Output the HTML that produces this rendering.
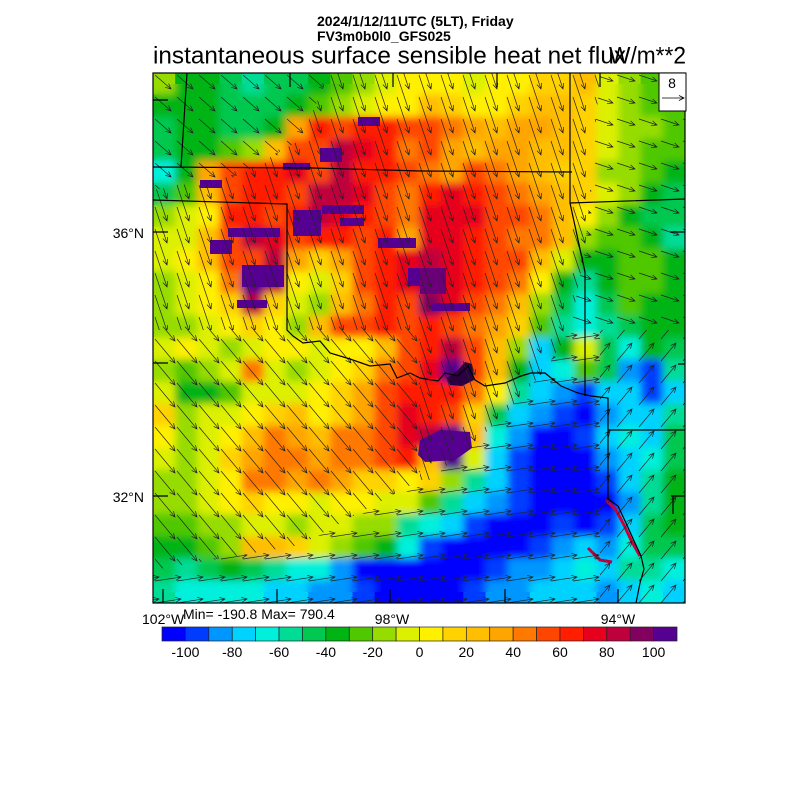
<!DOCTYPE html>
<html><head><meta charset="utf-8"><style>
body{margin:0;background:#fff}
svg{display:block;font-family:"Liberation Sans",Arial,Helvetica,sans-serif}
.a{stroke:#0000ff}.b{stroke:#003cff}.c{stroke:#0096ff}.d{stroke:#00d2ff}.e{stroke:#00f0dc}.f{stroke:#00dc96}.g{stroke:#00c850}.h{stroke:#00b414}.i{stroke:#50c800}.j{stroke:#96dc00}.k{stroke:#dcf000}.l{stroke:#fff000}.m{stroke:#ffd200}.n{stroke:#ffbe00}.o{stroke:#ffa500}.p{stroke:#ff7800}.q{stroke:#ff4600}.r{stroke:#ff1e00}.s{stroke:#e6001e}.t{stroke:#be003c}.u{stroke:#82005f}.v{stroke:#550091}
.grid path{stroke-width:1.06;fill:none}
</style></head><body>
<svg width="800" height="800" viewBox="0 0 800 800" xmlns="http://www.w3.org/2000/svg" xmlns:xlink="http://www.w3.org/1999/xlink">
<rect width="800" height="800" fill="#fff"/>
<defs>
<filter id="bl" x="0" y="0" width="1" height="1"><feGaussianBlur stdDeviation="4"/></filter>
<clipPath id="mapclip"><rect x="153" y="73" width="532" height="530"/></clipPath>
<clipPath id="cA"><polygon points="153,73 330,73 300,140 240,175 153,190"/></clipPath>
<clipPath id="cB"><polygon points="330,73 600,73 585,250 570,330 545,370 500,420 430,480 420,480 420,330 153,330 153,190 240,175 300,140"/></clipPath>
<clipPath id="cC"><polygon points="153,330 420,330 420,480 300,545 153,570"/></clipPath>
<clipPath id="cD"><polygon points="153,570 300,545 430,480 500,420 545,370 570,330 600,330 600,603 153,603"/></clipPath>
<clipPath id="cE"><polygon points="600,330 685,330 685,603 600,603"/></clipPath>
<clipPath id="cF"><polygon points="600,73 685,73 685,330 570,330 585,250"/></clipPath>
<path id="aA" d="M2,2l16,14m-2.4,-5.5l2.4,5.5l-5.8,-1.7"/>
<path id="aB" d="M2,2l12,36m.7,-6l-.7,6l-4.1,-4.4"/>
<path id="aC" d="M2,2l20,24m-1.5,-5.8l1.5,5.8l-5.4,-2.6"/>
<path id="aD" d="M2,2l26,-4m-5.8,-1.7l5.8,1.7l-5,3.3"/>
<path id="aE" d="M2,2l15,-18m-5.4,2.6l5.4,-2.6l-1.5,5.8"/>
<path id="aF" d="M2,2l18,6m-4.4,-4.1l4.4,4.1l-6,.7"/>
<g id="rA"><use href="#aA" xlink:href="#aA" x="-44"/><use href="#aA" xlink:href="#aA" x="-22"/><use href="#aA" xlink:href="#aA"/><use href="#aA" xlink:href="#aA" x="22"/></g>
<g id="rB"><use href="#aB" xlink:href="#aB" x="-44"/><use href="#aB" xlink:href="#aB" x="-22"/><use href="#aB" xlink:href="#aB"/><use href="#aB" xlink:href="#aB" x="22"/></g>
<g id="rC"><use href="#aC" xlink:href="#aC" x="-44"/><use href="#aC" xlink:href="#aC" x="-22"/><use href="#aC" xlink:href="#aC"/><use href="#aC" xlink:href="#aC" x="22"/></g>
<g id="rD"><use href="#aD" xlink:href="#aD" x="-44"/><use href="#aD" xlink:href="#aD" x="-22"/><use href="#aD" xlink:href="#aD"/><use href="#aD" xlink:href="#aD" x="22"/></g>
<g id="rE"><use href="#aE" xlink:href="#aE" x="-44"/><use href="#aE" xlink:href="#aE" x="-22"/><use href="#aE" xlink:href="#aE"/><use href="#aE" xlink:href="#aE" x="22"/></g>
<g id="rF"><use href="#aF" xlink:href="#aF" x="-44"/><use href="#aF" xlink:href="#aF" x="-22"/><use href="#aF" xlink:href="#aF"/><use href="#aF" xlink:href="#aF" x="22"/></g>
<pattern id="pA" patternUnits="userSpaceOnUse" x="153" y="73" width="22" height="22"><g stroke="#222" stroke-width=".7" fill="none"><use href="#rA" xlink:href="#rA" y="-44"/><use href="#rA" xlink:href="#rA" y="-22"/><use href="#rA" xlink:href="#rA"/><use href="#rA" xlink:href="#rA" y="22"/></g></pattern>
<pattern id="pB" patternUnits="userSpaceOnUse" x="153" y="73" width="22" height="22"><g stroke="#222" stroke-width=".7" fill="none"><use href="#rB" xlink:href="#rB" y="-44"/><use href="#rB" xlink:href="#rB" y="-22"/><use href="#rB" xlink:href="#rB"/><use href="#rB" xlink:href="#rB" y="22"/></g></pattern>
<pattern id="pC" patternUnits="userSpaceOnUse" x="153" y="73" width="22" height="22"><g stroke="#222" stroke-width=".7" fill="none"><use href="#rC" xlink:href="#rC" y="-44"/><use href="#rC" xlink:href="#rC" y="-22"/><use href="#rC" xlink:href="#rC"/><use href="#rC" xlink:href="#rC" y="22"/></g></pattern>
<pattern id="pD" patternUnits="userSpaceOnUse" x="153" y="73" width="22" height="22"><g stroke="#222" stroke-width=".7" fill="none"><use href="#rD" xlink:href="#rD" y="-44"/><use href="#rD" xlink:href="#rD" y="-22"/><use href="#rD" xlink:href="#rD"/><use href="#rD" xlink:href="#rD" y="22"/></g></pattern>
<pattern id="pE" patternUnits="userSpaceOnUse" x="153" y="73" width="22" height="22"><g stroke="#222" stroke-width=".7" fill="none"><use href="#rE" xlink:href="#rE" y="-44"/><use href="#rE" xlink:href="#rE" y="-22"/><use href="#rE" xlink:href="#rE"/><use href="#rE" xlink:href="#rE" y="22"/></g></pattern>
<pattern id="pF" patternUnits="userSpaceOnUse" x="153" y="73" width="22" height="22"><g stroke="#222" stroke-width=".7" fill="none"><use href="#rF" xlink:href="#rF" y="-44"/><use href="#rF" xlink:href="#rF" y="-22"/><use href="#rF" xlink:href="#rF"/><use href="#rF" xlink:href="#rF" y="22"/></g></pattern>
</defs>

<g clip-path="url(#mapclip)">
<g id="grid" class="grid" transform="translate(153,73) scale(22.1667,22.0833)">
<path class="j" d="M0,.5h1.05"/><path class="h" d="M1,.5h2.05"/><path class="g" d="M3,.5h1.05"/><path class="f" d="M4,.5h1.05"/><path class="g" d="M5,.5h2.05"/><path class="h" d="M7,.5h1.05"/><path class="i" d="M8,.5h1.05"/><path class="j" d="M9,.5h1.05"/><path class="k" d="M10,.5h1.05"/><path class="l" d="M11,.5h3.05"/><path class="k" d="M14,.5h1.05"/><path class="l" d="M15,.5h2.05"/><path class="m" d="M17,.5h2.05"/><path class="n" d="M19,.5h1.05"/><path class="k" d="M20,.5h1.05"/><path class="j" d="M21,.5h1.05"/><path class="i" d="M22,.5h2.05"/>
<path class="h" d="M0,1.5h3.05"/><path class="g" d="M3,1.5h3.05"/><path class="h" d="M6,1.5h1.05"/><path class="i" d="M7,1.5h1.05"/><path class="j" d="M8,1.5h1.05"/><path class="k" d="M9,1.5h1.05"/><path class="l" d="M10,1.5h2.05"/><path class="n" d="M12,1.5h1.05"/><path class="m" d="M13,1.5h1.05"/><path class="l" d="M14,1.5h2.05"/><path class="m" d="M16,1.5h1.05"/><path class="n" d="M17,1.5h2.05"/><path class="m" d="M19,1.5h1.05"/><path class="k" d="M20,1.5h1.05"/><path class="j" d="M21,1.5h1.05"/><path class="i" d="M22,1.5h2.05"/>
<path class="g" d="M0,2.5h1.05"/><path class="h" d="M1,2.5h2.05"/><path class="g" d="M3,2.5h2.05"/><path class="h" d="M5,2.5h1.05"/><path class="o" d="M6,2.5h1.05"/><path class="r" d="M7,2.5h1.05"/><path class="q" d="M8,2.5h1.05"/><path class="r" d="M9,2.5h2.05"/><path class="q" d="M11,2.5h2.05"/><path class="p" d="M13,2.5h1.05"/><path class="o" d="M14,2.5h1.05"/><path class="n" d="M15,2.5h1.05"/><path class="o" d="M16,2.5h2.05"/><path class="n" d="M18,2.5h1.05"/><path class="m" d="M19,2.5h1.05"/><path class="k" d="M20,2.5h1.05"/><path class="j" d="M21,2.5h2.05"/><path class="i" d="M23,2.5h1.05"/>
<path class="g" d="M0,3.5h1.05"/><path class="h" d="M1,3.5h2.05"/><path class="i" d="M3,3.5h1.05"/><path class="j" d="M4,3.5h1.05"/><path class="n" d="M5,3.5h1.05"/><path class="q" d="M6,3.5h2.05"/><path class="t" d="M8,3.5h1.05"/><path class="s" d="M9,3.5h1.05"/><path class="r" d="M10,3.5h1.05"/><path class="p" d="M11,3.5h1.05"/><path class="q" d="M12,3.5h1.05"/><path class="o" d="M13,3.5h1.05"/><path class="n" d="M14,3.5h1.05"/><path class="o" d="M15,3.5h2.05"/><path class="n" d="M17,3.5h2.05"/><path class="m" d="M19,3.5h1.05"/><path class="k" d="M20,3.5h1.05"/><path class="j" d="M21,3.5h1.05"/><path class="i" d="M22,3.5h2.05"/>
<path class="e" d="M0,4.5h1.05"/><path class="h" d="M1,4.5h1.05"/><path class="o" d="M2,4.5h1.05"/><path class="q" d="M3,4.5h1.05"/><path class="r" d="M4,4.5h2.05"/><path class="s" d="M6,4.5h1.05"/><path class="q" d="M7,4.5h1.05"/><path class="t" d="M8,4.5h1.05"/><path class="r" d="M9,4.5h2.05"/><path class="q" d="M11,4.5h1.05"/><path class="p" d="M12,4.5h1.05"/><path class="o" d="M13,4.5h1.05"/><path class="q" d="M14,4.5h1.05"/><path class="p" d="M15,4.5h1.05"/><path class="o" d="M16,4.5h1.05"/><path class="n" d="M17,4.5h1.05"/><path class="m" d="M18,4.5h2.05"/><path class="j" d="M20,4.5h2.05"/><path class="i" d="M22,4.5h1.05"/><path class="h" d="M23,4.5h1.05"/>
<path class="g" d="M0,5.5h1.05"/><path class="i" d="M1,5.5h1.05"/><path class="n" d="M2,5.5h1.05"/><path class="q" d="M3,5.5h1.05"/><path class="r" d="M4,5.5h2.05"/><path class="q" d="M6,5.5h1.05"/><path class="t" d="M7,5.5h2.05"/><path class="s" d="M9,5.5h1.05"/><path class="q" d="M10,5.5h1.05"/><path class="p" d="M11,5.5h1.05"/><path class="r" d="M12,5.5h1.05"/><path class="s" d="M13,5.5h1.05"/><path class="r" d="M14,5.5h1.05"/><path class="q" d="M15,5.5h1.05"/><path class="p" d="M16,5.5h1.05"/><path class="o" d="M17,5.5h1.05"/><path class="n" d="M18,5.5h1.05"/><path class="m" d="M19,5.5h1.05"/><path class="k" d="M20,5.5h1.05"/><path class="j" d="M21,5.5h1.05"/><path class="h" d="M22,5.5h1.05"/><path class="g" d="M23,5.5h1.05"/>
<path class="j" d="M0,6.5h1.05"/><path class="k" d="M1,6.5h1.05"/><path class="l" d="M2,6.5h1.05"/><path class="r" d="M3,6.5h2.05"/><path class="q" d="M5,6.5h1.05"/><path class="r" d="M6,6.5h1.05"/><path class="t" d="M7,6.5h1.05"/><path class="s" d="M8,6.5h1.05"/><path class="r" d="M9,6.5h1.05"/><path class="q" d="M10,6.5h1.05"/><path class="p" d="M11,6.5h1.05"/><path class="s" d="M12,6.5h3.05"/><path class="q" d="M15,6.5h2.05"/><path class="p" d="M17,6.5h1.05"/><path class="n" d="M18,6.5h1.05"/><path class="l" d="M19,6.5h1.05"/><path class="j" d="M20,6.5h1.05"/><path class="h" d="M21,6.5h1.05"/><path class="g" d="M22,6.5h2.05"/>
<path class="k" d="M0,7.5h2.05"/><path class="n" d="M2,7.5h1.05"/><path class="q" d="M3,7.5h1.05"/><path class="t" d="M4,7.5h1.05"/><path class="s" d="M5,7.5h1.05"/><path class="q" d="M6,7.5h1.05"/><path class="r" d="M7,7.5h2.05"/><path class="q" d="M9,7.5h1.05"/><path class="r" d="M10,7.5h1.05"/><path class="o" d="M11,7.5h1.05"/><path class="s" d="M12,7.5h2.05"/><path class="r" d="M14,7.5h1.05"/><path class="q" d="M15,7.5h1.05"/><path class="p" d="M16,7.5h2.05"/><path class="n" d="M18,7.5h1.05"/><path class="j" d="M19,7.5h1.05"/><path class="i" d="M20,7.5h2.05"/><path class="h" d="M22,7.5h1.05"/><path class="f" d="M23,7.5h1.05"/>
<path class="k" d="M0,8.5h1.05"/><path class="l" d="M1,8.5h1.05"/><path class="n" d="M2,8.5h1.05"/><path class="q" d="M3,8.5h2.05"/><path class="t" d="M5,8.5h1.05"/><path class="o" d="M6,8.5h1.05"/><path class="m" d="M7,8.5h1.05"/><path class="o" d="M8,8.5h1.05"/><path class="q" d="M9,8.5h1.05"/><path class="r" d="M10,8.5h1.05"/><path class="s" d="M11,8.5h1.05"/><path class="t" d="M12,8.5h1.05"/><path class="s" d="M13,8.5h1.05"/><path class="r" d="M14,8.5h1.05"/><path class="q" d="M15,8.5h2.05"/><path class="n" d="M17,8.5h1.05"/><path class="k" d="M18,8.5h1.05"/><path class="h" d="M19,8.5h2.05"/><path class="i" d="M21,8.5h2.05"/><path class="h" d="M23,8.5h1.05"/>
<path class="j" d="M0,9.5h1.05"/><path class="k" d="M1,9.5h1.05"/><path class="l" d="M2,9.5h1.05"/><path class="p" d="M3,9.5h1.05"/><path class="v" d="M4,9.5h1.05"/><path class="t" d="M5,9.5h1.05"/><path class="l" d="M6,9.5h1.05"/><path class="k" d="M7,9.5h1.05"/><path class="m" d="M8,9.5h1.05"/><path class="q" d="M9,9.5h1.05"/><path class="r" d="M10,9.5h1.05"/><path class="s" d="M11,9.5h1.05"/><path class="t" d="M12,9.5h1.05"/><path class="s" d="M13,9.5h1.05"/><path class="r" d="M14,9.5h1.05"/><path class="q" d="M15,9.5h1.05"/><path class="p" d="M16,9.5h1.05"/><path class="l" d="M17,9.5h1.05"/><path class="h" d="M18,9.5h1.05"/><path class="f" d="M19,9.5h1.05"/><path class="h" d="M20,9.5h1.05"/><path class="i" d="M21,9.5h2.05"/><path class="h" d="M23,9.5h1.05"/>
<path class="j" d="M0,10.5h1.05"/><path class="k" d="M1,10.5h1.05"/><path class="l" d="M2,10.5h1.05"/><path class="m" d="M3,10.5h1.05"/><path class="t" d="M4,10.5h1.05"/><path class="m" d="M5,10.5h1.05"/><path class="k" d="M6,10.5h1.05"/><path class="j" d="M7,10.5h1.05"/><path class="n" d="M8,10.5h1.05"/><path class="p" d="M9,10.5h1.05"/><path class="r" d="M10,10.5h1.05"/><path class="q" d="M11,10.5h1.05"/><path class="u" d="M12,10.5h1.05"/><path class="s" d="M13,10.5h1.05"/><path class="q" d="M14,10.5h1.05"/><path class="p" d="M15,10.5h1.05"/><path class="n" d="M16,10.5h1.05"/><path class="j" d="M17,10.5h1.05"/><path class="g" d="M18,10.5h1.05"/><path class="e" d="M19,10.5h1.05"/><path class="g" d="M20,10.5h1.05"/><path class="i" d="M21,10.5h1.05"/><path class="h" d="M22,10.5h2.05"/>
<path class="j" d="M0,11.5h2.05"/><path class="k" d="M2,11.5h1.05"/><path class="l" d="M3,11.5h1.05"/><path class="m" d="M4,11.5h1.05"/><path class="l" d="M5,11.5h1.05"/><path class="j" d="M6,11.5h1.05"/><path class="n" d="M7,11.5h1.05"/><path class="q" d="M8,11.5h2.05"/><path class="r" d="M10,11.5h1.05"/><path class="q" d="M11,11.5h1.05"/><path class="r" d="M12,11.5h1.05"/><path class="q" d="M13,11.5h1.05"/><path class="p" d="M14,11.5h1.05"/><path class="o" d="M15,11.5h1.05"/><path class="m" d="M16,11.5h1.05"/><path class="i" d="M17,11.5h1.05"/><path class="f" d="M18,11.5h1.05"/><path class="e" d="M19,11.5h1.05"/><path class="f" d="M20,11.5h1.05"/><path class="g" d="M21,11.5h1.05"/><path class="h" d="M22,11.5h2.05"/>
<path class="k" d="M0,12.5h1.05"/><path class="l" d="M1,12.5h1.05"/><path class="k" d="M2,12.5h1.05"/><path class="j" d="M3,12.5h1.05"/><path class="k" d="M4,12.5h1.05"/><path class="l" d="M5,12.5h2.05"/><path class="k" d="M7,12.5h1.05"/><path class="l" d="M8,12.5h2.05"/><path class="n" d="M10,12.5h1.05"/><path class="q" d="M11,12.5h1.05"/><path class="r" d="M12,12.5h1.05"/><path class="t" d="M13,12.5h1.05"/><path class="q" d="M14,12.5h1.05"/><path class="n" d="M15,12.5h1.05"/><path class="j" d="M16,12.5h1.05"/><path class="d" d="M17,12.5h1.05"/><path class="h" d="M18,12.5h1.05"/><path class="k" d="M19,12.5h1.05"/><path class="g" d="M20,12.5h1.05"/><path class="e" d="M21,12.5h1.05"/><path class="h" d="M22,12.5h1.05"/><path class="g" d="M23,12.5h1.05"/>
<path class="j" d="M0,13.5h1.05"/><path class="i" d="M1,13.5h1.05"/><path class="j" d="M2,13.5h1.05"/><path class="k" d="M3,13.5h1.05"/><path class="p" d="M4,13.5h1.05"/><path class="k" d="M5,13.5h1.05"/><path class="j" d="M6,13.5h1.05"/><path class="k" d="M7,13.5h1.05"/><path class="l" d="M8,13.5h1.05"/><path class="m" d="M9,13.5h1.05"/><path class="p" d="M10,13.5h1.05"/><path class="q" d="M11,13.5h1.05"/><path class="s" d="M12,13.5h1.05"/><path class="v" d="M13,13.5h1.05"/><path class="q" d="M14,13.5h1.05"/><path class="n" d="M15,13.5h1.05"/><path class="h" d="M16,13.5h1.05"/><path class="d" d="M17,13.5h1.05"/><path class="e" d="M18,13.5h1.05"/><path class="i" d="M19,13.5h1.05"/><path class="g" d="M20,13.5h1.05"/><path class="c" d="M21,13.5h1.05"/><path class="b" d="M22,13.5h1.05"/><path class="f" d="M23,13.5h1.05"/>
<path class="k" d="M0,14.5h1.05"/><path class="h" d="M1,14.5h2.05"/><path class="i" d="M3,14.5h1.05"/><path class="k" d="M4,14.5h3.05"/><path class="l" d="M7,14.5h1.05"/><path class="m" d="M8,14.5h1.05"/><path class="o" d="M9,14.5h1.05"/><path class="q" d="M10,14.5h1.05"/><path class="r" d="M11,14.5h3.05"/><path class="p" d="M14,14.5h1.05"/><path class="l" d="M15,14.5h1.05"/><path class="f" d="M16,14.5h1.05"/><path class="d" d="M17,14.5h1.05"/><path class="c" d="M18,14.5h1.05"/><path class="b" d="M19,14.5h1.05"/><path class="d" d="M20,14.5h2.05"/><path class="b" d="M22,14.5h1.05"/><path class="d" d="M23,14.5h1.05"/>
<path class="m" d="M0,15.5h1.05"/><path class="j" d="M1,15.5h1.05"/><path class="k" d="M2,15.5h2.05"/><path class="l" d="M4,15.5h1.05"/><path class="m" d="M5,15.5h1.05"/><path class="n" d="M6,15.5h1.05"/><path class="l" d="M7,15.5h1.05"/><path class="m" d="M8,15.5h1.05"/><path class="o" d="M9,15.5h1.05"/><path class="q" d="M10,15.5h1.05"/><path class="s" d="M11,15.5h1.05"/><path class="r" d="M12,15.5h1.05"/><path class="q" d="M13,15.5h1.05"/><path class="m" d="M14,15.5h1.05"/><path class="g" d="M15,15.5h1.05"/><path class="d" d="M16,15.5h1.05"/><path class="c" d="M17,15.5h1.05"/><path class="b" d="M18,15.5h1.05"/><path class="a" d="M19,15.5h1.05"/><path class="c" d="M20,15.5h1.05"/><path class="d" d="M21,15.5h2.05"/><path class="f" d="M23,15.5h1.05"/>
<path class="l" d="M0,16.5h1.05"/><path class="j" d="M1,16.5h1.05"/><path class="k" d="M2,16.5h1.05"/><path class="l" d="M3,16.5h1.05"/><path class="n" d="M4,16.5h1.05"/><path class="p" d="M5,16.5h1.05"/><path class="o" d="M6,16.5h1.05"/><path class="n" d="M7,16.5h1.05"/><path class="p" d="M8,16.5h2.05"/><path class="q" d="M10,16.5h1.05"/><path class="s" d="M11,16.5h1.05"/><path class="t" d="M12,16.5h1.05"/><path class="v" d="M13,16.5h1.05"/><path class="n" d="M14,16.5h1.05"/><path class="e" d="M15,16.5h1.05"/><path class="c" d="M16,16.5h1.05"/><path class="a" d="M17,16.5h2.05"/><path class="b" d="M19,16.5h1.05"/><path class="d" d="M20,16.5h1.05"/><path class="e" d="M21,16.5h1.05"/><path class="d" d="M22,16.5h1.05"/><path class="g" d="M23,16.5h1.05"/>
<path class="k" d="M0,17.5h1.05"/><path class="j" d="M1,17.5h1.05"/><path class="k" d="M2,17.5h1.05"/><path class="m" d="M3,17.5h1.05"/><path class="o" d="M4,17.5h1.05"/><path class="p" d="M5,17.5h2.05"/><path class="o" d="M7,17.5h1.05"/><path class="p" d="M8,17.5h2.05"/><path class="q" d="M10,17.5h1.05"/><path class="r" d="M11,17.5h1.05"/><path class="n" d="M12,17.5h1.05"/><path class="v" d="M13,17.5h1.05"/><path class="k" d="M14,17.5h1.05"/><path class="d" d="M15,17.5h1.05"/><path class="b" d="M16,17.5h1.05"/><path class="a" d="M17,17.5h3.05"/><path class="c" d="M20,17.5h1.05"/><path class="d" d="M21,17.5h1.05"/><path class="e" d="M22,17.5h1.05"/><path class="g" d="M23,17.5h1.05"/>
<path class="j" d="M0,18.5h2.05"/><path class="k" d="M2,18.5h1.05"/><path class="l" d="M3,18.5h1.05"/><path class="p" d="M4,18.5h2.05"/><path class="o" d="M6,18.5h1.05"/><path class="p" d="M7,18.5h1.05"/><path class="o" d="M8,18.5h1.05"/><path class="m" d="M9,18.5h2.05"/><path class="l" d="M11,18.5h1.05"/><path class="m" d="M12,18.5h1.05"/><path class="j" d="M13,18.5h1.05"/><path class="f" d="M14,18.5h1.05"/><path class="d" d="M15,18.5h1.05"/><path class="b" d="M16,18.5h1.05"/><path class="a" d="M17,18.5h3.05"/><path class="b" d="M20,18.5h1.05"/><path class="d" d="M21,18.5h1.05"/><path class="f" d="M22,18.5h1.05"/><path class="h" d="M23,18.5h1.05"/>
<path class="j" d="M0,19.5h2.05"/><path class="k" d="M2,19.5h1.05"/><path class="l" d="M3,19.5h1.05"/><path class="m" d="M4,19.5h1.05"/><path class="l" d="M5,19.5h2.05"/><path class="k" d="M7,19.5h1.05"/><path class="l" d="M8,19.5h2.05"/><path class="k" d="M10,19.5h2.05"/><path class="i" d="M12,19.5h1.05"/><path class="f" d="M13,19.5h1.05"/><path class="d" d="M14,19.5h1.05"/><path class="c" d="M15,19.5h1.05"/><path class="b" d="M16,19.5h1.05"/><path class="a" d="M17,19.5h4.05"/><path class="c" d="M21,19.5h1.05"/><path class="f" d="M22,19.5h1.05"/><path class="h" d="M23,19.5h1.05"/>
<path class="i" d="M0,20.5h2.05"/><path class="j" d="M2,20.5h2.05"/><path class="k" d="M4,20.5h2.05"/><path class="j" d="M6,20.5h1.05"/><path class="k" d="M7,20.5h2.05"/><path class="j" d="M9,20.5h2.05"/><path class="f" d="M11,20.5h1.05"/><path class="e" d="M12,20.5h1.05"/><path class="d" d="M13,20.5h1.05"/><path class="b" d="M14,20.5h1.05"/><path class="a" d="M15,20.5h3.05"/><path class="b" d="M18,20.5h1.05"/><path class="a" d="M19,20.5h1.05"/><path class="b" d="M20,20.5h1.05"/><path class="d" d="M21,20.5h1.05"/><path class="g" d="M22,20.5h1.05"/><path class="h" d="M23,20.5h1.05"/>
<path class="h" d="M0,21.5h2.05"/><path class="i" d="M2,21.5h1.05"/><path class="j" d="M3,21.5h1.05"/><path class="n" d="M4,21.5h2.05"/><path class="m" d="M6,21.5h1.05"/><path class="k" d="M7,21.5h1.05"/><path class="j" d="M8,21.5h1.05"/><path class="i" d="M9,21.5h1.05"/><path class="h" d="M10,21.5h1.05"/><path class="e" d="M11,21.5h1.05"/><path class="b" d="M12,21.5h1.05"/><path class="a" d="M13,21.5h4.05"/><path class="b" d="M17,21.5h1.05"/><path class="c" d="M18,21.5h1.05"/><path class="d" d="M19,21.5h1.05"/><path class="c" d="M20,21.5h1.05"/><path class="e" d="M21,21.5h1.05"/><path class="g" d="M22,21.5h2.05"/>
<path class="g" d="M0,22.5h1.05"/><path class="f" d="M1,22.5h1.05"/><path class="g" d="M2,22.5h1.05"/><path class="h" d="M3,22.5h1.05"/><path class="g" d="M4,22.5h1.05"/><path class="f" d="M5,22.5h1.05"/><path class="e" d="M6,22.5h2.05"/><path class="c" d="M8,22.5h1.05"/><path class="a" d="M9,22.5h6.05"/><path class="b" d="M15,22.5h1.05"/><path class="c" d="M16,22.5h2.05"/><path class="d" d="M18,22.5h1.05"/><path class="e" d="M19,22.5h1.05"/><path class="d" d="M20,22.5h1.05"/><path class="f" d="M21,22.5h2.05"/><path class="e" d="M23,22.5h1.05"/>
<path class="f" d="M0,23.5h1.05"/><path class="e" d="M1,23.5h4.05"/><path class="d" d="M5,23.5h2.05"/><path class="c" d="M7,23.5h2.05"/><path class="b" d="M9,23.5h1.05"/><path class="a" d="M10,23.5h4.05"/><path class="b" d="M14,23.5h1.05"/><path class="c" d="M15,23.5h2.05"/><path class="d" d="M17,23.5h3.05"/><path class="c" d="M20,23.5h1.05"/><path class="d" d="M21,23.5h1.05"/><path class="e" d="M22,23.5h1.05"/><path class="d" d="M23,23.5h1.05"/>
</g>
<use href="#grid" xlink:href="#grid" filter="url(#bl)"/>

<g fill="#550091">
<rect x="283" y="163" width="27" height="7"/>
<rect x="320" y="148" width="22" height="14"/>
<rect x="358" y="117" width="22" height="9"/>
<rect x="200" y="180" width="22" height="8"/>
<rect x="293" y="210" width="28" height="26"/>
<rect x="322" y="205" width="42" height="9"/>
<rect x="340" y="218" width="24" height="8"/>
<rect x="210" y="240" width="22" height="14"/>
<rect x="228" y="228" width="52" height="9"/>
<rect x="242" y="265" width="42" height="22"/>
<rect x="237" y="300" width="30" height="8"/>
<rect x="378" y="238" width="38" height="10"/>
<rect x="408" y="268" width="12" height="18"/>
<rect x="420" y="268" width="26" height="26" fill="#6a0078"/>
<rect x="432" y="303" width="38" height="8"/>
<polygon points="420,440 440,430 470,432 472,448 455,460 425,462 418,455"/>
<polygon points="447,378 458,370 465,362 472,364 474,380 462,386 450,385" fill="#2a0040"/>
</g>
<polyline points="606,500 616,510 624,525 632,542 640,556" stroke="#c8003c" stroke-width="3" fill="none"/>
<polyline points="588,548 600,560 612,562" stroke="#be003c" stroke-width="3" fill="none"/>

<rect x="153" y="73" width="532" height="530" fill="url(#pA)" clip-path="url(#cA)"/>
<rect x="153" y="73" width="532" height="530" fill="url(#pB)" clip-path="url(#cB)"/>
<rect x="153" y="73" width="532" height="530" fill="url(#pC)" clip-path="url(#cC)"/>
<rect x="153" y="73" width="532" height="530" fill="url(#pD)" clip-path="url(#cD)"/>
<rect x="153" y="73" width="532" height="530" fill="url(#pE)" clip-path="url(#cE)"/>
<rect x="153" y="73" width="532" height="530" fill="url(#pF)" clip-path="url(#cF)"/>

<path fill="none" stroke="#000" stroke-width="1.2" d="M153,167L313,168L420,171L572,172M187,73L181,167M153,100L168,100M153,200L287,204L287,330L293,336L303,343L320,341L330,353L350,359L370,366L390,364L397,378L410,373L420,378L438,381L445,373L458,376L468,366L475,380L485,386L505,383L521,376L531,373L545,373L561,386L578,393L591,396L608,398L608,499L618,506L626,523L635,543L641,556L644,569L640,583L636,603M570,73L570,203L585,272L585,396M570,203L685,199M608,430L685,430"/>
<path fill="none" stroke="#000" stroke-width="1.2" d="M290,73v14M393,73v14M497,73v14M600,73v14M163,603v-14M277,603v-14M390,603v-14M505,603v-14M618,603v-14M153,232h15M153,363h15M153,496h15M685,232h-15M685,364h-7M685,496h-14M673,496v18"/>
</g>
<rect x="153" y="73" width="532" height="530" fill="none" stroke="#000" stroke-width="1.2"/>

<rect x="659" y="73" width="27" height="38" fill="#fff" stroke="#000" stroke-width="1"/>
<text x="672" y="88" font-size="14" text-anchor="middle">8</text>
<path d="M662,98H684M679,95.5L684,98L679,100.5" stroke="#000" stroke-width=".8" fill="none"/>

<text x="317" y="26" font-size="14" font-weight="bold">2024/1/12/11UTC (5LT), Friday</text>
<text x="317" y="41" font-size="14" font-weight="bold">FV3m0b0l0_GFS025</text>
<text x="153" y="63.5" font-size="24.5" textLength="473" lengthAdjust="spacingAndGlyphs">instantaneous surface sensible heat net flux</text>
<text x="609" y="63.5" font-size="24.5" textLength="77" lengthAdjust="spacingAndGlyphs">W/m**2</text>

<text x="144" y="238" font-size="14" text-anchor="end">36°N</text>
<text x="144" y="502" font-size="14" text-anchor="end">32°N</text>
<text x="142" y="624" font-size="14">102°W</text>
<text x="392" y="624" font-size="14" text-anchor="middle">98°W</text>
<text x="618" y="624" font-size="14" text-anchor="middle">94°W</text>
<text x="183" y="619" font-size="14">Min= -190.8 Max= 790.4</text>

<g stroke="#222" stroke-width=".7">
<rect x="162" y="627" width="23.41" height="14" fill="#0000ff"/>
<rect x="185.41" y="627" width="23.41" height="14" fill="#003cff"/>
<rect x="208.82" y="627" width="23.41" height="14" fill="#0096ff"/>
<rect x="232.23" y="627" width="23.41" height="14" fill="#00d2ff"/>
<rect x="255.64" y="627" width="23.41" height="14" fill="#00f0dc"/>
<rect x="279.05" y="627" width="23.41" height="14" fill="#00dc96"/>
<rect x="302.46" y="627" width="23.41" height="14" fill="#00c850"/>
<rect x="325.87" y="627" width="23.41" height="14" fill="#00b414"/>
<rect x="349.28" y="627" width="23.41" height="14" fill="#50c800"/>
<rect x="372.69" y="627" width="23.41" height="14" fill="#96dc00"/>
<rect x="396.10" y="627" width="23.41" height="14" fill="#dcf000"/>
<rect x="419.51" y="627" width="23.41" height="14" fill="#fff000"/>
<rect x="442.92" y="627" width="23.41" height="14" fill="#ffd200"/>
<rect x="466.33" y="627" width="23.41" height="14" fill="#ffbe00"/>
<rect x="489.74" y="627" width="23.41" height="14" fill="#ffa500"/>
<rect x="513.15" y="627" width="23.41" height="14" fill="#ff7800"/>
<rect x="536.56" y="627" width="23.41" height="14" fill="#ff4600"/>
<rect x="559.97" y="627" width="23.41" height="14" fill="#ff1e00"/>
<rect x="583.38" y="627" width="23.41" height="14" fill="#e6001e"/>
<rect x="606.79" y="627" width="23.41" height="14" fill="#be003c"/>
<rect x="630.20" y="627" width="23.41" height="14" fill="#82005f"/>
<rect x="653.61" y="627" width="23.41" height="14" fill="#550091"/>
</g>
<g font-size="14" text-anchor="middle">
<text x="185.4" y="657">-100</text>
<text x="232.2" y="657">-80</text>
<text x="279.1" y="657">-60</text>
<text x="325.9" y="657">-40</text>
<text x="372.7" y="657">-20</text>
<text x="419.5" y="657">0</text>
<text x="466.3" y="657">20</text>
<text x="513.2" y="657">40</text>
<text x="560.0" y="657">60</text>
<text x="606.8" y="657">80</text>
<text x="653.6" y="657">100</text>
</g>
</svg>
</body></html>
